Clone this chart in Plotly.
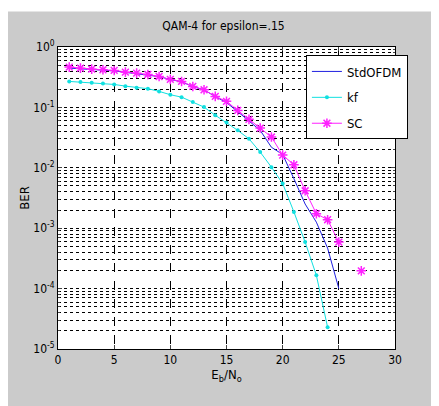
import plotly.graph_objects as go

snr = list(range(1, 28))
# log10(BER) values; None = not plotted
std_log = [-0.35, -0.36, -0.375, -0.385, -0.395, -0.42, -0.44, -0.46, -0.49, -0.54,
           -0.575, -0.655, -0.71, -0.82, -0.92, -1.07, -1.22, -1.38, -1.66, -1.78,
           -2.18, -2.6, -2.9, -3.33, -4.0, None, None]
kf_log = [-0.57, -0.58, -0.59, -0.603, -0.62, -0.648, -0.675, -0.69, -0.735, -0.79,
          -0.83, -0.912, -0.995, -1.13, -1.25, -1.38, -1.52, -1.74, -1.99, -2.26,
          -2.73, -3.23, -3.78, -4.64, None, None, None]
sc_log = [-0.333, -0.35, -0.367, -0.377, -0.388, -0.416, -0.433, -0.455, -0.488, -0.537,
          -0.57, -0.653, -0.708, -0.818, -0.90, -1.05, -1.198, -1.342, -1.49, -1.79,
          -1.95, -2.38, -2.76, -2.86, -3.23, None, -3.706]

ytick_vals = [1, 0.1, 0.01, 0.001, 0.0001, 0.00001]
ytick_text = ["10<sup>0</sup>", "10<sup>-1</sup>", "10<sup>-2</sup>", "10<sup>-3</sup>",
              "10<sup>-4</sup>", "10<sup>-5</sup>"]
xtick_vals = [0, 5, 10, 15, 20, 25, 30]

def lin(vals):
    return [None if v is None else 10 ** v for v in vals]

minor_vals = [m * 10 ** e for e in range(-5, 0) for m in range(2, 10)]

font = "Liberation Sans Narrow, DejaVu Sans Condensed, Liberation Sans, Arial, sans-serif"

fig = go.Figure()
fig.add_trace(go.Scatter(x=snr, y=lin(std_log), name="StdOFDM", mode="lines",
                         legendgroup="a",
                         line=dict(color="#2020e0", width=1)))
fig.add_trace(go.Scatter(x=snr, y=lin(kf_log), name="kf", mode="lines+markers",
                         legendgroup="b",
                         line=dict(color="#10e0e0", width=1),
                         marker=dict(symbol="circle", size=4, color="#10e0e0")))
fig.add_trace(go.Scatter(x=snr, y=lin(sc_log), name="SC", mode="lines+markers",
                         legendgroup="c", connectgaps=False,
                         line=dict(color="#ff20ff", width=1),
                         marker=dict(symbol="asterisk-open", size=8,
                                     line=dict(color="#ff20ff", width=1.5))))

# page is offset by the 8px body margin
OFF = 8
W, H = 439 - OFF, 406 - OFF
L, R, T, B = 58.3 - OFF, 44, 46.5 - OFF, 57
pw, ph = W - L - R, H - T - B

def py(ys):  # screen y -> paper y
    return 1 + (46.5 - ys) / ph

def px(xs):  # screen x -> paper x
    return (xs - 58.3) / pw

# thin white strip at top of the grey frame
fig.add_shape(type="rect", xref="paper", yref="paper",
              x0=px(0), x1=px(440), y0=py(11), y1=py(0),
              fillcolor="white", line=dict(width=0), layer="below")

fig.update_layout(
    width=W, height=H,
    margin=dict(l=L, r=R, t=T, b=B, autoexpand=False),
    paper_bgcolor="#cbcbcb", plot_bgcolor="white",
    font=dict(family=font, size=12, color="black"),
    title=dict(text="QAM-4 for epsilon=.15", x=0.5, xanchor="center",
               y=1 - (26 - OFF) / H, yanchor="middle", font=dict(size=12), automargin=False),
    showlegend=True,
    legend=dict(x=px(306), y=py(55), xanchor="left", yanchor="top",
                bgcolor="white", bordercolor="black", borderwidth=1,
                font=dict(size=13), tracegroupgap=6, itemwidth=30),
    xaxis=dict(range=[0, 30], tickvals=xtick_vals, ticks="inside", ticklen=4,
               showline=True, linecolor="black", linewidth=1, mirror="ticks",
               showgrid=True, gridcolor="black", griddash="dash", gridwidth=0.7,
               zeroline=False, automargin=False,
               title=dict(text="E<sub>b</sub>/N<sub>o</sub>", standoff=3, font=dict(size=13))),
    yaxis=dict(type="log", range=[-5, 0], tickvals=ytick_vals, ticktext=ytick_text,
               ticks="inside", ticklen=4,
               showline=True, linecolor="black", linewidth=1, mirror="ticks",
               showgrid=True, gridcolor="black", griddash="dot", gridwidth=0.7,
               minor=dict(tickmode="array", tickvals=minor_vals, showgrid=True,
                          gridcolor="black", griddash="dot", gridwidth=0.7,
                          ticks="inside", ticklen=2),
               zeroline=False, automargin=False,
               title=dict(text="BER", standoff=0, font=dict(size=13))),
)

fig.write_html("out.html")
